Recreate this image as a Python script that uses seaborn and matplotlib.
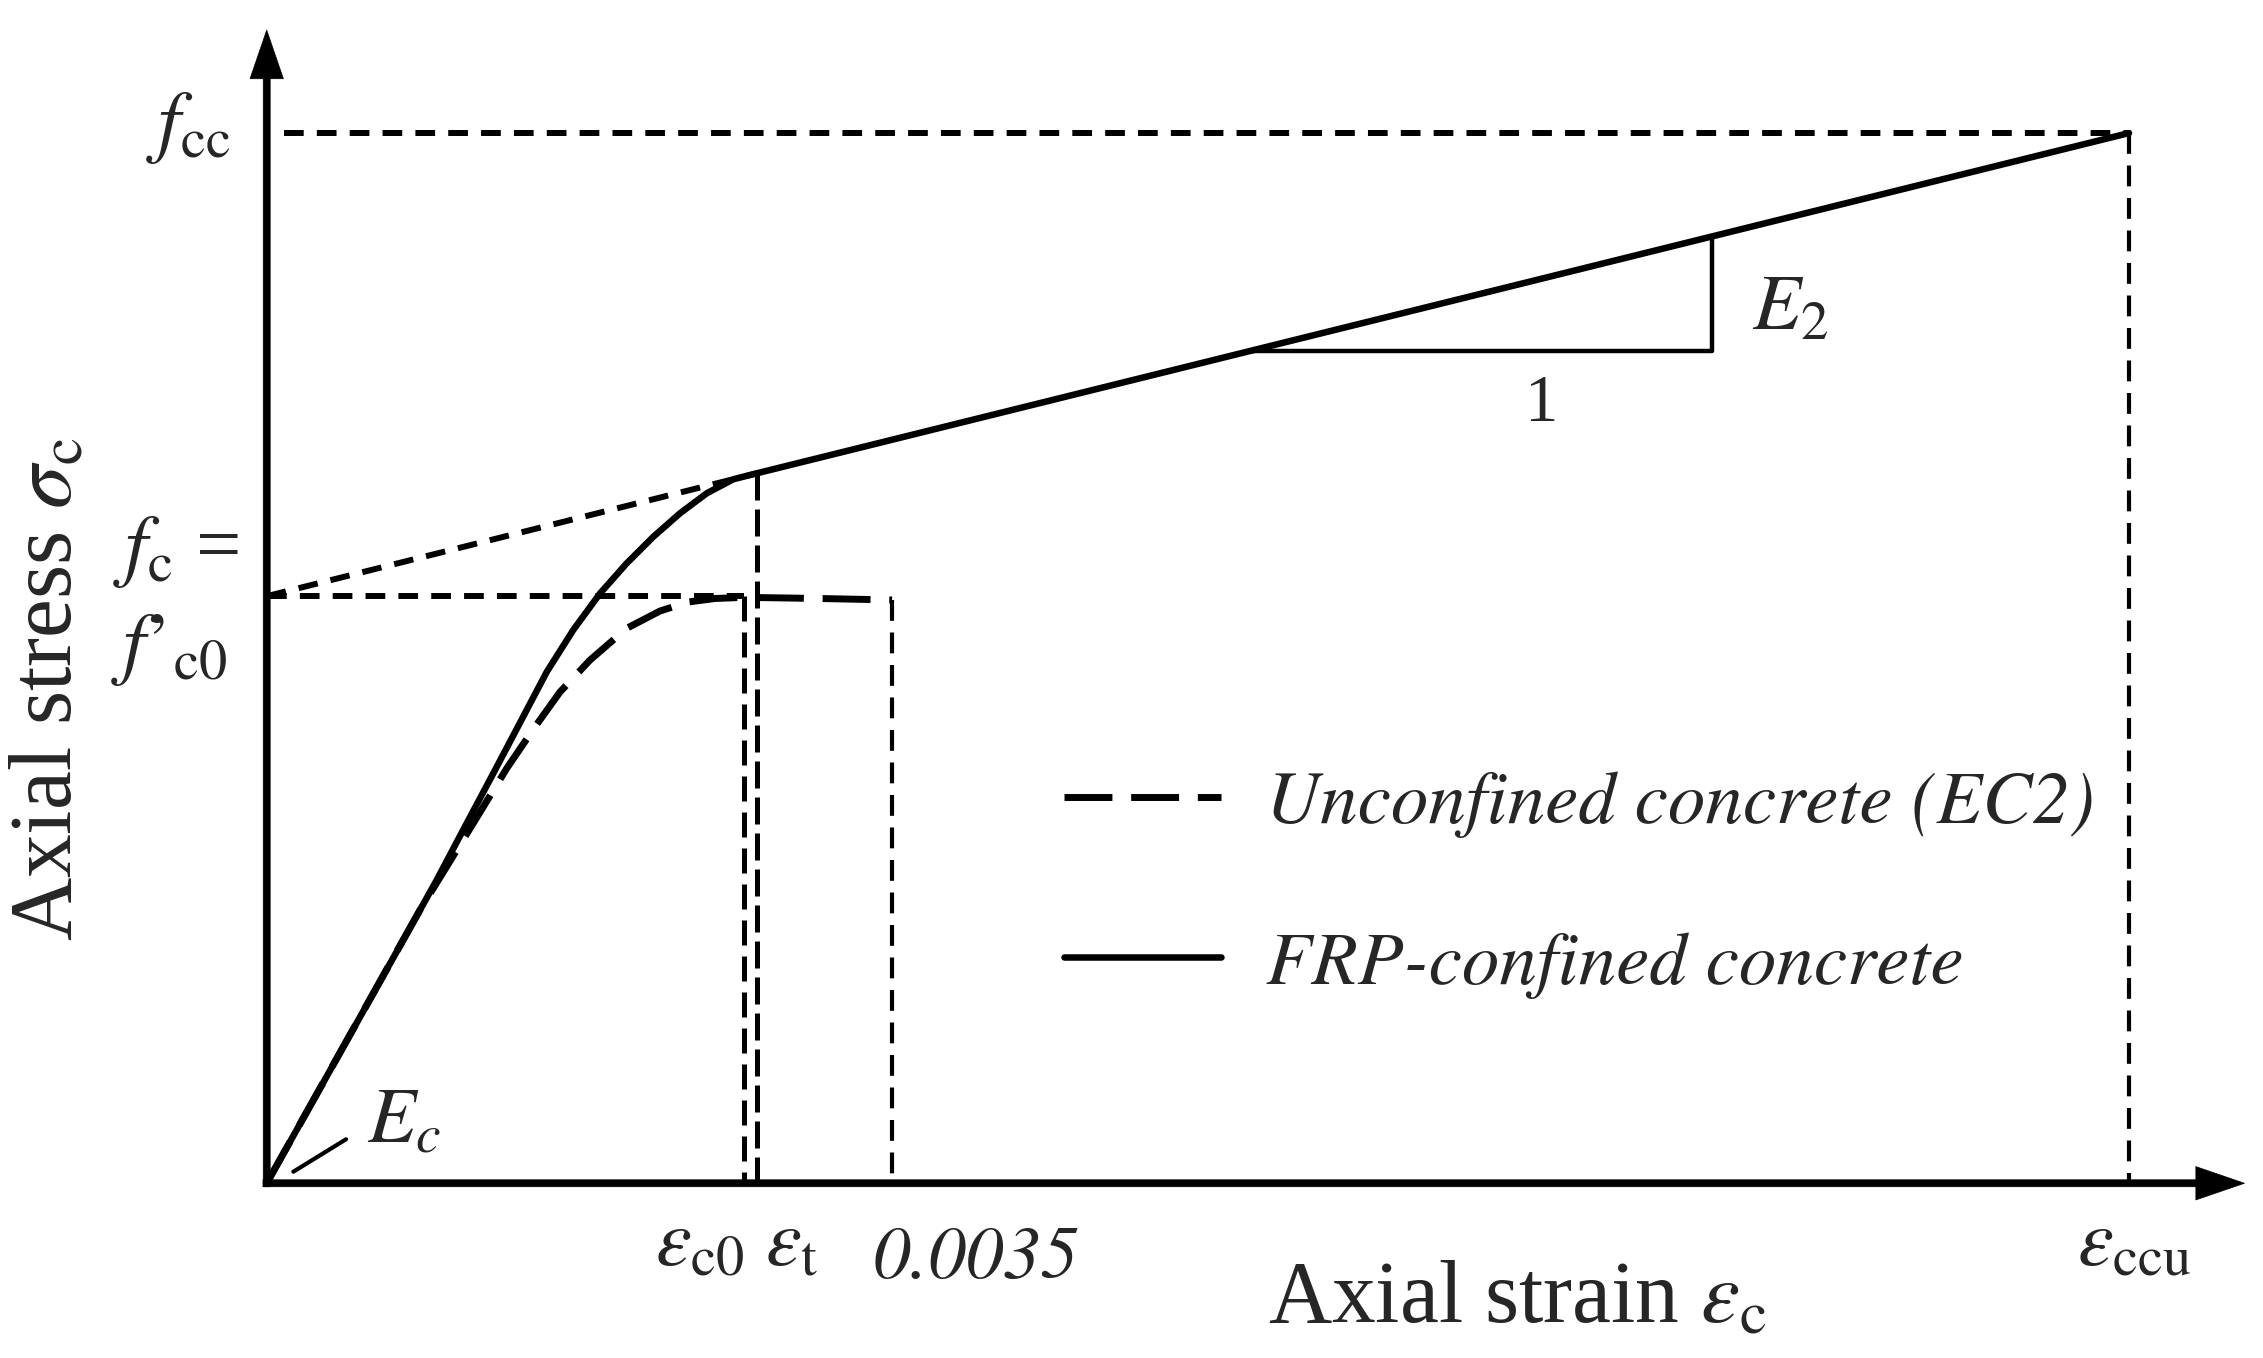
import seaborn as sns
import matplotlib.pyplot as plt

# Characteristic points of the schematic (normalised: eps_ccu = 1, f_cc = 1)
eps_c0 = 0.2565    # peak strain of unconfined concrete
eps_t = 0.2631     # transition strain
eps_cu = 0.3358    # 0.0035
eps_ccu = 1.0
f_c0 = 0.559
f_t = 0.676
f_cc = 1.0

# FRP-confined concrete
conf_strain = [0.0, 0.0733, 0.0913, 0.1074, 0.1217, 0.1360, 0.1504, 0.1646, 0.1790,
               0.1933, 0.2076, 0.2219, 0.2363, 0.2505, 0.2631, 1.0]
conf_stress = [0.0, 0.2316, 0.2888, 0.3428, 0.3904, 0.4385, 0.4870, 0.5268, 0.5617,
               0.5903, 0.6156, 0.6379, 0.6570, 0.6703, 0.6760, 1.0]

# Unconfined concrete (EC2)
unconf_strain = [0.0, 0.0823, 0.1109, 0.1289, 0.1441, 0.1575, 0.1736, 0.1933, 0.2112,
                 0.2264, 0.2407, 0.2565, 0.2971, 0.3358]
unconf_stress = [0.0, 0.2602, 0.3428, 0.3951, 0.4347, 0.4678, 0.4982, 0.5284, 0.5449,
                 0.5535, 0.5568, 0.5579, 0.5568, 0.5554]

sns.set_style('white')
plt.rcParams['font.family'] = ['Liberation Serif', 'DejaVu Serif']
plt.rcParams['mathtext.fontset'] = 'stix'

fig = plt.figure(figsize=(22.63, 13.58), dpi=100)
ax = fig.add_axes([0.1014, 0.1132, 0.8970, 0.8739])
ax.set_xlim(-0.02, 1.07)
ax.set_ylim(-0.02, 1.11)
ax.set_axis_off()

# axes with arrow heads
arrow = dict(facecolor='black', edgecolor='black', lw=0.5, width=5,
             headwidth=24, headlength=35, shrink=0)
ax.annotate('', xy=(1.062, 0), xytext=(-0.002, 0), arrowprops=arrow)
ax.annotate('', xy=(0, 1.098), xytext=(0, -0.0033), arrowprops=arrow)

# stress-strain curves
sns.lineplot(x=unconf_strain, y=unconf_stress, ax=ax, color='black', lw=5,
             linestyle=(0, (6.9, 2.7)), estimator=None, sort=False,
             label='Unconfined concrete (EC2)')
sns.lineplot(x=conf_strain, y=conf_stress, ax=ax, color='black', lw=4.7,
             estimator=None, sort=False, label='FRP-confined concrete')

# guide lines
ref = dict(color='black', lw=4.3, linestyle=(0, (3.3, 2.2)))
ax.plot([0.0093, eps_ccu], [f_cc, f_cc], **ref)
ax.plot([0, eps_c0], [f_c0, f_c0], **ref)
ax.plot([0, eps_t], [f_c0, f_t], **ref)
ax.plot([eps_c0, eps_c0], [f_c0, 0], color='black', lw=3.6, linestyle=(0, (5, 2.2)))
ax.plot([eps_t, eps_t], [f_t, 0], color='black', lw=3.6, linestyle=(0, (5.4, 1.8)))
ax.plot([eps_cu, eps_cu], [unconf_stress[-1], 0], color='black', lw=3, linestyle=(0, (5, 2.8)))
ax.plot([eps_ccu, eps_ccu], [f_cc, 0], color='black', lw=3, linestyle=(0, (5, 2.8)))

# slope triangle for E2
E2 = (f_cc - f_t) / (eps_ccu - eps_t)
tri_y = 0.7927
tri_x0 = eps_t + (tri_y - f_t) / E2
tri_x1 = 0.7761
ax.plot([tri_x0, tri_x1, tri_x1], [tri_y, tri_y, f_t + E2 * (tri_x1 - eps_t)],
        color='black', lw=3.2)
ax.text(0.7975, 0.8134, r'$E_2$', ha='left', va='baseline', fontsize=57)
ax.text(0.6843, 0.7258, '1', ha='center', va='baseline', fontsize=48)

# Ec label with leader
ax.plot([0.0143, 0.0426], [0.011, 0.0419], color='black', lw=3)
ax.text(0.0537, 0.0396, r'$E_c$', ha='left', va='baseline', fontsize=57)

# stress labels
ax.text(-0.0197, 1.005, r'$f_{\mathrm{cc}}$', ha='right', va='center', fontsize=58)
ax.text(-0.0149, 0.601, r'$f_{\mathrm{c}}$ =', ha='right', va='center', fontsize=58)
ax.text(-0.0213, 0.5077, r"$f\mathrm{’}_{\mathrm{c0}}$", ha='right', va='center', fontsize=58)

# strain labels
ax.text(eps_c0, -0.0788, r'$\varepsilon_{\mathrm{c0}}$', ha='right', va='baseline', fontsize=58)
ax.text(0.2676, -0.0788, r'$\varepsilon_{\mathrm{t}}$', ha='left', va='baseline', fontsize=58)
ax.text(0.3256, -0.0902, '0.0035', family='STIXGeneral', style='italic',
        ha='left', va='baseline', fontsize=54)
ax.text(1.003, -0.0788, r'$\varepsilon_{\mathrm{ccu}}$', ha='center', va='baseline', fontsize=58)

# axis titles
fig.text(0.6703, 0.0265, r'Axial strain $\varepsilon_{\mathrm{c}}$', ha='center', va='baseline', fontsize=63)
fig.text(0.022, 0.4926, r'Axial stress $\sigma_{\mathrm{c}}$', rotation=90, ha='center', va='center', fontsize=63)

ax.legend(loc='upper left', bbox_to_anchor=(0.4281, 0.393), bbox_transform=ax.transData,
          frameon=False, prop=dict(family='STIXGeneral', style='italic', size=54),
          handlelength=2.1, handletextpad=0.59, labelspacing=1.24,
          borderpad=0, borderaxespad=0)

fig.savefig('out.png', dpi=100)
